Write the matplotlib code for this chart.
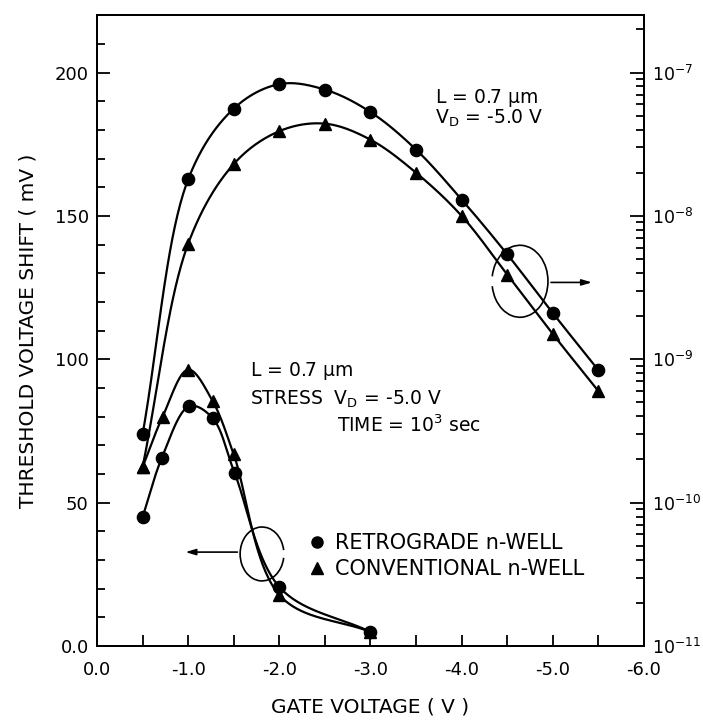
import numpy as np
import matplotlib
matplotlib.use("Agg")
import matplotlib.pyplot as plt
from matplotlib.patches import Arc
from matplotlib.ticker import FormatStrFormatter, LogLocator, NullFormatter, MultipleLocator

plt.rcParams['font.family'] = ['DejaVu Sans']
plt.rcParams['axes.unicode_minus'] = False
plt.rcParams['mathtext.fontset'] = 'dejavusans'

# ---------------- data ----------------
# Threshold-voltage shift (left axis, mV) after stress
vg_shift_retro = [-0.5, -0.71, -1.01, -1.27, -1.51, -2.0, -3.0]
dvt_retro = [45.0, 65.5, 83.6, 79.4, 60.3, 20.6, 4.9]
vg_shift_conv = [-0.5, -0.72, -1.0, -1.27, -1.5, -2.0, -3.0]
dvt_conv = [62.4, 80.0, 96.4, 85.3, 66.8, 17.8, 4.9]

# Gate current (right axis, log scale)
vg_curr = [-0.5, -1.0, -1.5, -2.0, -2.5, -3.0, -3.5, -4.0, -4.5, -5.0, -5.5]
ig_retro = [3.0e-10, 1.8e-8, 5.6e-8, 8.3e-8, 7.6e-8, 5.3e-8, 2.9e-8, 1.3e-8, 5.4e-9, 2.1e-9, 8.4e-10]
ig_conv = [1.77e-10, 6.4e-9, 2.3e-8, 3.9e-8, 4.4e-8, 3.4e-8, 2.0e-8, 1.0e-8, 3.9e-9, 1.5e-9, 6.0e-10]

x_ticks = [0, -1, -2, -3, -4, -5, -6]
y_ticks = [0, 50, 100, 150, 200]
y_tick_labels = ['0.0', '50', '100', '150', '200']
series_labels = ['RETROGRADE n-WELL', 'CONVENTIONAL n-WELL']


def smooth_curve(x, y, sx, sy, n=40):
    """Centripetal Catmull-Rom curve through the given points (for drawing)."""
    P = np.column_stack([np.asarray(x, float) / sx, np.asarray(y, float) / sy])
    P = np.vstack([2 * P[0] - P[1], P, 2 * P[-1] - P[-2]])
    out = []
    for i in range(1, len(P) - 2):
        p0, p1, p2, p3 = P[i - 1], P[i], P[i + 1], P[i + 2]
        t0 = 0.0
        t1 = t0 + np.linalg.norm(p1 - p0) ** 0.5
        t2 = t1 + np.linalg.norm(p2 - p1) ** 0.5
        t3 = t2 + np.linalg.norm(p3 - p2) ** 0.5
        t = np.linspace(t1, t2, n)[:, None]
        A1 = (t1 - t) / (t1 - t0) * p0 + (t - t0) / (t1 - t0) * p1
        A2 = (t2 - t) / (t2 - t1) * p1 + (t - t1) / (t2 - t1) * p2
        A3 = (t3 - t) / (t3 - t2) * p2 + (t - t2) / (t3 - t2) * p3
        B1 = (t2 - t) / (t2 - t0) * A1 + (t - t0) / (t2 - t0) * A2
        B2 = (t3 - t) / (t3 - t1) * A2 + (t - t1) / (t3 - t1) * A3
        C = (t2 - t) / (t2 - t1) * B1 + (t - t1) / (t2 - t1) * B2
        out.append(C if i == len(P) - 3 else C[:-1])
    C = np.vstack(out)
    return C[:, 0] * sx, C[:, 1] * sy


fig = plt.figure(figsize=(7.03, 7.23), dpi=100)
ax = fig.add_axes([0.138, 0.1065, 0.778, 0.8725])
ax2 = ax.twinx()

lw = 1.6
ms = 8.8
col = 'black'

# left-axis curves
for xs, ys, mk in [(vg_shift_retro, dvt_retro, 'o'), (vg_shift_conv, dvt_conv, '^')]:
    cx, cy = smooth_curve(xs, ys, 6.0, 220.0)
    ax.plot(cx, cy, color=col, lw=lw, zorder=3)
    ax.plot(xs, ys, ls='none', marker=mk, ms=ms, color=col, zorder=4)

# right-axis curves (log)
for xs, ys, mk in [(vg_curr, ig_retro, 'o'), (vg_curr, ig_conv, '^')]:
    cx, cl = smooth_curve(xs, np.log10(ys), 6.0, 4.4)
    ax2.plot(cx, 10 ** cl, color=col, lw=lw, zorder=3)
    ax2.plot(xs, ys, ls='none', marker=mk, ms=ms, color=col, zorder=4)

ax.set_xlim(0, -6)
ax.set_ylim(0, 220)
ax2.set_yscale('log')
ax2.set_ylim(1e-11, 10 ** (-11 + 220 / 50))

ax.set_xticks(x_ticks)
ax.xaxis.set_major_formatter(FormatStrFormatter('%.1f'))
ax.xaxis.set_minor_locator(MultipleLocator(0.5))
ax.set_yticks(y_ticks, y_tick_labels)
ax.yaxis.set_minor_locator(MultipleLocator(10))

ax.tick_params(axis='x', which='both', direction='in', length=8, width=1.3,
               labelsize=13, pad=11, top=False)
ax.tick_params(axis='y', which='major', direction='in', length=9.5, width=1.3,
               labelsize=13, pad=6, right=False)
ax.tick_params(axis='y', which='minor', direction='in', length=6, width=1.3, right=False)

ax2.yaxis.set_major_locator(LogLocator(base=10, numticks=20))
ax2.yaxis.set_minor_locator(LogLocator(base=10, subs=np.arange(2, 10), numticks=20))
ax2.yaxis.set_minor_formatter(NullFormatter())
ax2.tick_params(axis='y', which='major', direction='in', length=10, width=1.3,
                labelsize=12.5, pad=6)
ax2.tick_params(axis='y', which='minor', direction='in', length=6, width=1.3)
for a in (ax, ax2):
    a.xaxis.offsetText.set_visible(False)
    a.yaxis.offsetText.set_visible(False)
    for s in a.spines.values():
        s.set_linewidth(1.4)

ax.set_xlabel('GATE VOLTAGE ( V )', fontsize=14.5)
ax.xaxis.set_label_coords(0.5, -0.082)
ax.set_ylabel('THRESHOLD VOLTAGE SHIFT ( mV )', fontsize=14.5)
ax.yaxis.set_label_coords(-0.108, 0.5)

# annotations
fs = 13.5
ax.text(-3.71, 189.2, r'L = 0.7 $\mathrm{\mu}$m', fontsize=fs, va='baseline')
ax.text(-3.71, 182.2, r'V$_\mathrm{D}$ = -5.0 V', fontsize=fs, va='baseline')
ax.text(-1.68, 94.1, r'L = 0.7 $\mathrm{\mu}$m', fontsize=fs, va='baseline')
ax.text(-1.68, 84.3, r'STRESS  V$_\mathrm{D}$ = -5.0 V', fontsize=fs, va='baseline')
ax.text(-2.63, 74.6, r'TIME = 10$^3$ sec', fontsize=fs, va='baseline')

# bracket + arrows (x axis is inverted, so angles are mirrored)
ax.add_patch(Arc((-1.81, 32.1), 0.48, 18.8, theta1=-100, theta2=100, color=col, lw=1.2))
ax.annotate('', xy=(-0.94, 32.75), xytext=(-1.57, 32.75),
            arrowprops=dict(arrowstyle='-|>,head_length=0.6,head_width=0.18', color=col, lw=1.2))
ax.add_patch(Arc((-4.64, 127.2), 0.614, 25.1, theta1=80, theta2=280, color=col, lw=1.2))
ax.annotate('', xy=(-5.46, 126.8), xytext=(-4.95, 126.8),
            arrowprops=dict(arrowstyle='-|>,head_length=0.6,head_width=0.18', color=col, lw=1.2))

# legend
h1 = plt.Line2D([], [], ls='none', marker='o', ms=8, color=col)
h2 = plt.Line2D([], [], ls='none', marker='^', ms=8, color=col)
ax.legend([h1, h2], series_labels, loc='upper left', bbox_to_anchor=(0.387, 0.179),
          frameon=False, fontsize=15, handlelength=0.8, handletextpad=0.45,
          labelspacing=0.3, borderpad=0, borderaxespad=0, numpoints=1)

fig.savefig('out.png', dpi=100)
